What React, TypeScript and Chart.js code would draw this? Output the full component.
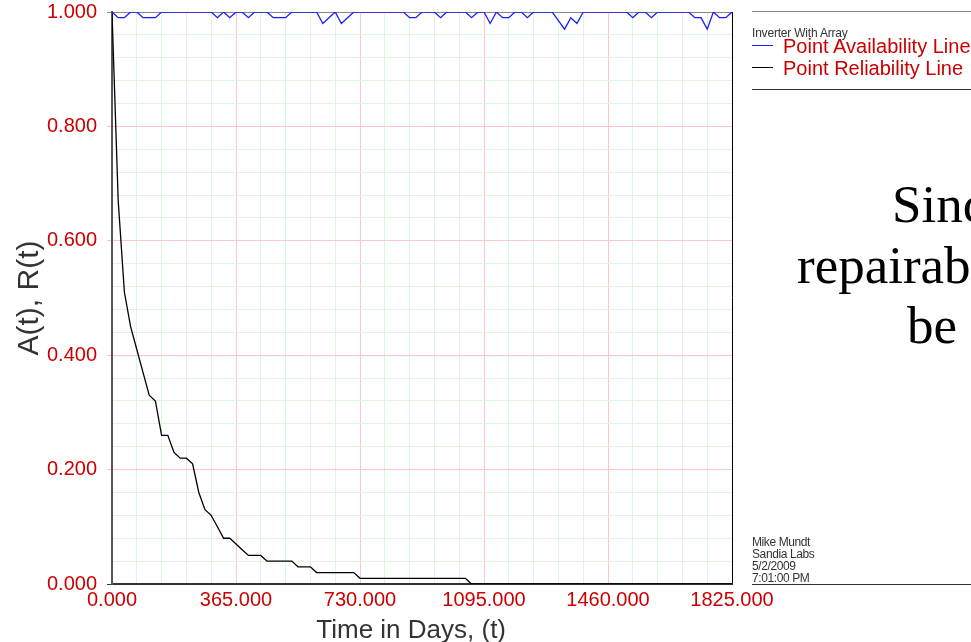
import React, { useEffect, useRef } from "react";
import { Chart, registerables } from "chart.js";

Chart.register(...registerables);

// ---- data ----
const TIMES = [
  0, 18.25, 36.5, 54.75, 73, 91.25, 109.5, 127.75, 146, 164.25,
  182.5, 200.75, 219, 237.25, 255.5, 273.75, 292, 310.25, 328.5, 346.75,
  365, 383.25, 401.5, 419.75, 438, 456.25, 474.5, 492.75, 511, 529.25,
  547.5, 565.75, 584, 602.25, 620.5, 638.75, 657, 675.25, 693.5, 711.75,
  730, 748.25, 766.5, 784.75, 803, 821.25, 839.5, 857.75, 876, 894.25,
  912.5, 930.75, 949, 967.25, 985.5, 1003.75, 1022, 1040.25, 1058.5, 1076.75,
  1095, 1113.25, 1131.5, 1149.75, 1168, 1186.25, 1204.5, 1222.75, 1241, 1259.25,
  1277.5, 1295.75, 1314, 1332.25, 1350.5, 1368.75, 1387, 1405.25, 1423.5, 1441.75,
  1460, 1478.25, 1496.5, 1514.75, 1533, 1551.25, 1569.5, 1587.75, 1606, 1624.25,
  1642.5, 1660.75, 1679, 1697.25, 1715.5, 1733.75, 1752, 1770.25, 1788.5, 1806.75,
  1825,
];

const AVAILABILITY = [
  1, 0.99, 0.99, 1, 1, 0.99, 0.99, 0.99, 1, 1,
  1, 1, 1, 1, 1, 1, 1, 0.99, 1, 0.99,
  1, 1, 0.99, 1, 1, 1, 0.99, 0.99, 0.99, 1,
  1, 1, 1, 1, 0.98, 0.99, 1, 0.98, 0.99, 1,
  1, 1, 1, 1, 1, 1, 1, 1, 0.99, 0.99,
  1, 1, 1, 0.99, 1, 1, 1, 1, 0.99, 1,
  1, 0.98, 1, 0.99, 0.99, 1, 1, 0.99, 1, 1,
  1, 1, 0.985, 0.97, 0.99, 0.98, 1, 1, 1, 1,
  1, 1, 1, 1, 0.99, 1, 1, 0.99, 1, 1,
  1, 1, 1, 1, 0.99, 0.99, 0.97, 1, 0.99, 0.99,
  1,
];

const RELIABILITY = [
  1, 0.67, 0.51, 0.45, 0.41, 0.37, 0.33, 0.32, 0.26, 0.26,
  0.23, 0.22, 0.22, 0.21, 0.16, 0.13, 0.12, 0.1, 0.08, 0.08,
  0.07, 0.06, 0.05, 0.05, 0.05, 0.04, 0.04, 0.04, 0.04, 0.04,
  0.03, 0.03, 0.03, 0.02, 0.02, 0.02, 0.02, 0.02, 0.02, 0.02,
  0.01, 0.01, 0.01, 0.01, 0.01, 0.01, 0.01, 0.01, 0.01, 0.01,
  0.01, 0.01, 0.01, 0.01, 0.01, 0.01, 0.01, 0.01, 0, 0,
  0, 0, 0, 0, 0, 0, 0, 0, 0, 0,
  0, 0, 0, 0, 0, 0, 0, 0, 0, 0,
  0, 0, 0, 0, 0, 0, 0, 0, 0, 0,
  0, 0, 0, 0, 0, 0, 0, 0, 0, 0,
  0,
];

const X_MAJOR_TICKS = [0, 365, 730, 1095, 1460, 1825];
const X_MINOR_STEP = 73;
const Y_MAJOR_TICKS = [0, 0.2, 0.4, 0.6, 0.8, 1];
const Y_MINOR_STEP = 0.04;

const SERIES_NAMES = ["Point Availability Line", "Point Reliability Line"];
const X_TITLE = "Time in Days, (t)\u00A0\u00A0\u00A0";
const Y_TITLE = "A(t), R(t)";
const LEGEND_TITLE = "Inverter With Array";
const AUTHOR_LINES = ["Mike Mundt", "Sandia Labs", "5/2/2009", "7:01:00 PM"];
const SIDE_TEXT_LINES = ["Since the system is", "repairable, availability will", "be close to one"];

// ---- styles ----
const SANS = "'Liberation Sans', Arial, sans-serif";
const SERIF = "'Liberation Serif', 'Times New Roman', serif";
const RED_TEXT = "#cc0000";
const GRID_RED = "#ffc6c6";
const GRID_GREEN = "#dcf7dc";
const BLUE = "#1c1cff";

const near = (a: number, b: number) => Math.abs(a - b) < 1e-6;
const isMajorX = (v: number) => X_MAJOR_TICKS.some((t) => near(t, v));
const isMajorY = (v: number) => Y_MAJOR_TICKS.some((t) => near(t, v));

export default function App() {
  const canvasRef = useRef<HTMLCanvasElement | null>(null);

  useEffect(() => {
    const canvas = canvasRef.current;
    if (!canvas) return;
    const chart = new Chart(canvas, {
      type: "line",
      data: {
        datasets: [
          {
            label: SERIES_NAMES[0],
            data: TIMES.map((t, i) => ({ x: t, y: AVAILABILITY[i] })),
            borderColor: BLUE,
            borderWidth: 1.3,
            pointRadius: 0,
            tension: 0,
            fill: false,
          },
          {
            label: SERIES_NAMES[1],
            data: TIMES.map((t, i) => ({ x: t, y: RELIABILITY[i] })),
            borderColor: "#000000",
            borderWidth: 1.3,
            pointRadius: 0,
            tension: 0,
            fill: false,
          },
        ],
      },
      options: {
        animation: false,
        responsive: false,
        devicePixelRatio: 1,
        layout: { padding: { top: 12, right: 239, left: 0, bottom: 0 } },
        plugins: { legend: { display: false }, tooltip: { enabled: false } },
        scales: {
          x: {
            type: "linear",
            min: 0,
            max: 1825,
            afterFit: (s: any) => {
              s.height = 58;
            },
            ticks: {
              stepSize: X_MINOR_STEP,
              autoSkip: false,
              maxRotation: 0,
              minRotation: 0,
              padding: 4,
              color: RED_TEXT,
              font: { family: SANS, size: 20 },
              callback: (v: any) => (isMajorX(Number(v)) ? Number(v).toFixed(3) : ""),
            },
            grid: {
              drawTicks: false,
              lineWidth: 1,
              color: (ctx: any) => {
                const v = ctx.tick ? ctx.tick.value : 0;
                if (near(v, 1825)) return "#000000";
                return isMajorX(v) ? GRID_RED : GRID_GREEN;
              },
            },
            border: { display: true, color: "#333333", width: 2 },
            title: {
              display: true,
              text: X_TITLE,
              color: "#333333",
              font: { family: SANS, size: 26, lineHeight: 1 },
              padding: { top: 0, bottom: -2 },
            },
          },
          y: {
            type: "linear",
            min: 0,
            max: 1,
            afterFit: (s: any) => {
              s.width = 112;
            },
            ticks: {
              stepSize: Y_MINOR_STEP,
              autoSkip: false,
              padding: 10,
              color: RED_TEXT,
              font: { family: SANS, size: 20, lineHeight: 0.1 },
              callback: (v: any) => (isMajorY(Number(v)) ? Number(v).toFixed(3) : ""),
            },
            grid: {
              drawTicks: true,
              tickLength: 5,
              lineWidth: 1,
              color: (ctx: any) => {
                const v = ctx.tick ? ctx.tick.value : 0;
                if (near(v, 1)) return "#888888";
                return isMajorY(v) ? GRID_RED : GRID_GREEN;
              },
              tickColor: (ctx: any) => {
                const v = ctx.tick ? ctx.tick.value : 0;
                if (near(v, 1)) return "#888888";
                if (near(v, 0)) return "#333333";
                return isMajorY(v) ? GRID_RED : "rgba(0,0,0,0)";
              },
            },
            border: { display: true, color: "#555555", width: 2 },
            title: {
              display: true,
              text: Y_TITLE,
              color: "#333333",
              font: { family: SANS, size: 30, lineHeight: 1 },
              padding: { top: 15, bottom: 0 },
            },
          },
        },
      },
    } as any);
    return () => chart.destroy();
  }, []);

  const abs = (extra: React.CSSProperties): React.CSSProperties => ({
    position: "absolute",
    whiteSpace: "nowrap",
    margin: 0,
    ...extra,
  });

  return (
    <div
      style={{
        position: "fixed",
        left: 0,
        top: 0,
        width: 971,
        height: 642,
        overflow: "hidden",
        background: "#ffffff",
        fontFamily: SANS,
      }}
    >
      <canvas
        ref={canvasRef}
        width={971}
        height={642}
        style={{ position: "absolute", left: 0, top: 0, width: 971, height: 642, display: "block" }}
      />
      {/* legend block */}
      <div style={abs({ left: 752, top: 11, width: 219, height: 1, background: "#888888" })} />
      <div style={abs({ left: 752, top: 27, fontSize: 12, lineHeight: "12px", color: "#333333", letterSpacing: "-0.2px" })}>
        {LEGEND_TITLE}
      </div>
      <div style={abs({ left: 752, top: 45, width: 21, height: 1, background: BLUE })} />
      <div style={abs({ left: 783, top: 36, fontSize: 20, lineHeight: "20px", color: RED_TEXT })}>
        {SERIES_NAMES[0]}
      </div>
      <div style={abs({ left: 752, top: 67, width: 21, height: 1, background: "#000000" })} />
      <div style={abs({ left: 783, top: 58, fontSize: 20, lineHeight: "20px", color: RED_TEXT })}>
        {SERIES_NAMES[1]}
      </div>
      <div style={abs({ left: 752, top: 89, width: 219, height: 1, background: "#333333" })} />

      {/* side text */}
      <div style={abs({ left: 892, top: 178, fontFamily: SERIF, fontSize: 53, lineHeight: "53px", color: "#000" })}>
        {SIDE_TEXT_LINES[0]}
      </div>
      <div style={abs({ left: 797, top: 239, fontFamily: SERIF, fontSize: 53, lineHeight: "53px", color: "#000" })}>
        {SIDE_TEXT_LINES[1]}
      </div>
      <div style={abs({ left: 907, top: 299, fontFamily: SERIF, fontSize: 53, lineHeight: "53px", color: "#000" })}>
        {SIDE_TEXT_LINES[2]}
      </div>

      {/* author block */}
      <div style={abs({ left: 752, top: 536, fontSize: 12, lineHeight: "12px", color: "#333333", letterSpacing: "-0.4px" })}>
        {AUTHOR_LINES.map((l) => (
          <div key={l}>{l}</div>
        ))}
      </div>
      <div style={abs({ left: 752, top: 584, width: 219, height: 1, background: "#333333" })} />
    </div>
  );
}
